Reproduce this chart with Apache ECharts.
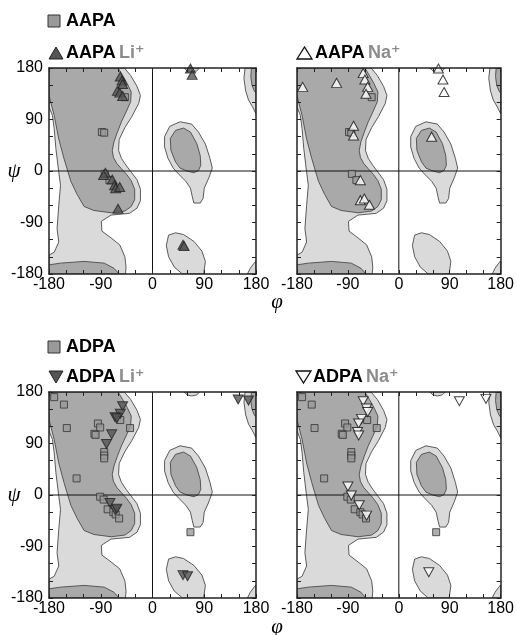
<!DOCTYPE html>
<html><head><meta charset="utf-8">
<script src="https://cdn.jsdelivr.net/npm/echarts/dist/echarts.min.js"></script>
<style>html,body{margin:0;padding:0;background:#fff}#c{width:517px;height:635px}</style>
</head><body><div id="c"></div>
<script>
// ---- axis ticks ----
const tickLabels = [-180, -90, 0, 90, 180];

// ---- background contour regions (phi, psi in degrees) ----
const lightLeft = [[-180,180],[-49,180],[-38,167],[-27,148],[-21,132],[-24,118],[-36,95],[-48,76],[-58,55],[-59,36],[-54,22],[-46,10],[-37,-2],[-27,-15],[-21,-32],[-21,-52],[-27,-65],[-40,-74],[-72,-77],[-89,-88],[-88,-105],[-72,-117],[-57,-129],[-48,-150],[-46,-168],[-47,-180],[-180,-180],[-180,-147],[-171,-142],[-163,-124],[-166,-101],[-163,-60],[-160,-25],[-163,-2],[-168,39],[-171,74],[-174,97],[-180,112]];
const darkLeft = [[-180,180],[-60,180],[-52,167],[-44,153],[-37,138],[-38,121],[-46,103],[-54,86],[-61,68],[-67,51],[-70,36],[-68,24],[-62,13],[-54,4],[-45,-6],[-37,-17],[-31,-32],[-31,-50],[-37,-62],[-48,-70],[-72,-73],[-102,-69],[-119,-62],[-131,-41],[-142,-18],[-154,22],[-163,56],[-171,97],[-180,132]];
const darkBottom = [[-180,-180],[-180,-164],[-160,-161],[-119,-158],[-84,-161],[-67,-170],[-58,-180]];
const lightTopRight = [[180,180],[161,180],[159,162],[162,140],[167,124],[174,112],[180,100]];
const darkTopRight = [[180,180],[172,180],[171,165],[173,150],[177,140],[180,136]];
const lightBottomRight = [[180,-180],[165,-180],[170,-170],[176,-162],[180,-157]];
const lowerBlob = [[52,-180],[38,-168],[28,-150],[24,-130],[28,-112],[40,-108],[54,-111],[72,-123],[86,-140],[92,-158],[89,-180]];
const topCap = [[55,180],[60,175],[68,173],[77,175],[82,180]];
const alphaLLight = [[21,60],[30,78],[48,86],[68,82],[80,68],[92,47],[100,22],[104,5],[98,-12],[90,-30],[88,-48],[83,-56],[72,-56],[69,-44],[66,-30],[58,-18],[45,-5],[36,5],[27,22],[21,42]];
const alphaLDark = [[31,57],[40,71],[54,75],[66,68],[77,48],[83,27],[84,10],[80,1],[72,-3],[60,0],[48,5],[40,16],[32,36]];
const zeroLines = [[0,-180,0,180],[-180,0,180,0]];

// ---- measured points (phi, psi) ----
const aapaSq = [[-48,129],[-88,68],[-84,67],[-83,-5],[-75,-16]];
const aapaLi = [[-56,165],[-53,158],[-52,152],[-61,140],[-57,137],[-52,131],[-82,-3],[-85,-7],[-70,-15],[-66,-25],[-64,-30],[-57,-28],[-60,-66],[66,179],[69,168],[53,-129],[55,-131]];
const aapaNa = [[-170,147],[-110,154],[-63,171],[-60,160],[-55,147],[-58,135],[-80,79],[-80,62],[-68,-16],[-68,-51],[-61,-48],[-52,-59],[70,179],[78,160],[80,138],[58,60]];
const adpaSq = [[-171,171],[-154,158],[-149,117],[-95,125],[-91,118],[-101,107],[-99,105],[-84,75],[-84,69],[-84,64],[-132,29],[-91,-3],[-85,-8],[-78,-25],[-68,-30],[-64,-34],[-58,-41],[-56,131],[-39,117],[66,-65]];
const adpaLi = [[-52,155],[-56,142],[-65,136],[-62,134],[-71,106],[-80,89],[-74,-14],[-65,-26],[-62,-24],[149,167],[167,165],[53,-140],[61,-142]];
const adpaNa = [[-63,164],[-57,151],[-55,145],[-66,133],[-71,125],[-73,110],[-71,104],[-90,15],[-84,-1],[-70,-18],[-57,-36],[107,164],[154,168],[53,-135]];

const FONT = '"Liberation Sans", Arial, "DejaVu Sans", sans-serif';
const LIGHT = '#dadada', DARK = '#a9a9a9', EDGE = '#4a4a4a';

const grids = [
  {left:49, top:68, width:207, height:206},
  {left:297, top:68, width:207, height:206},
  {left:49, top:392, width:207, height:206},
  {left:297, top:392, width:207, height:206}
];

const xAxes = [], yAxes = [], series = [];
const axisLineStyle = {color:'#222', width:1.5};
grids.forEach((g, gi) => {
  const showY = (gi === 0 || gi === 2);
  const base = {type:'value', gridIndex:gi, min:-180, max:180, interval:30, z:10,
    splitLine:{show:false},
    axisLine:{show:true, onZero:false, lineStyle:axisLineStyle},
    axisTick:{show:true, inside:true, length:4, lineStyle:{color:'#222', width:1}}};
  xAxes.push(Object.assign({}, base, {position:'bottom',
    axisLabel:{show:true, margin:3, fontSize:16, color:'#000', fontFamily:FONT,
      formatter: v => tickLabels.includes(v) ? String(v) : ''}}));
  xAxes.push(Object.assign({}, base, {position:'top', axisLabel:{show:false}}));
  yAxes.push(Object.assign({}, base, {position:'left',
    axisLabel:{show:showY, margin:6, fontSize:16, color:'#000', fontFamily:FONT,
      formatter: v => tickLabels.includes(v) ? String(v) : ''}}));
  yAxes.push(Object.assign({}, base, {position:'right', axisLabel:{show:false}}));

  const xi = gi*2, yi = gi*2;
  const poly = (pts, fill, z) => ({
    type:'custom', xAxisIndex:xi, yAxisIndex:yi, z:z, silent:true, clip:true,
    data:[[0,0]],
    renderItem: (params, api) => ({
      type:'polygon',
      shape:{points: pts.map(p => api.coord(p))},
      style:{fill:fill, stroke:EDGE, lineWidth:0.9}
    })
  });
  series.push(poly(lightLeft, LIGHT, 1));
  series.push(poly(lightTopRight, LIGHT, 1));
  series.push(poly(lightBottomRight, LIGHT, 1));
  series.push(poly(lowerBlob, LIGHT, 1));
  series.push(poly(topCap, LIGHT, 1));
  series.push(poly(alphaLLight, LIGHT, 1));
  series.push(poly(darkLeft, DARK, 2));
  series.push(poly(darkBottom, DARK, 2));
  series.push(poly(darkTopRight, DARK, 2));
  series.push(poly(alphaLDark, DARK, 2));
  series.push({
    type:'custom', xAxisIndex:xi, yAxisIndex:yi, z:3, silent:true, clip:true,
    data: zeroLines,
    renderItem: (params, api) => {
      const a = api.coord([api.value(0), api.value(1)]);
      const b = api.coord([api.value(2), api.value(3)]);
      return {type:'line', shape:{x1:a[0], y1:a[1], x2:b[0], y2:b[1]}, style:{stroke:'#111', lineWidth:1}};
    }
  });
  const sq = gi < 2 ? aapaSq : adpaSq;
  series.push({type:'scatter', xAxisIndex:xi, yAxisIndex:yi, z:4, data:sq, symbol:'rect', symbolSize:7,
    itemStyle:{color:'#9a9a9a', borderColor:'#333', borderWidth:1}, silent:true});
  const tri = [aapaLi, aapaNa, adpaLi, adpaNa][gi];
  const li = (gi === 0 || gi === 2);
  series.push({type:'scatter', xAxisIndex:xi, yAxisIndex:yi, z:5, data:tri, symbol:'triangle',
    symbolSize:[10,9], symbolRotate: gi >= 2 ? 180 : 0,
    itemStyle: li ? {color:'#555', borderColor:'#222', borderWidth:1} : {color:'#fff', borderColor:'#111', borderWidth:1},
    silent:true});
});

const richT = {a:{fontSize:18, fontWeight:'bold', fill:'#000', fontFamily:FONT}, b:{fontSize:18, fontWeight:'bold', fill:'#8c8c8c', fontFamily:FONT}};
function label(x, y, main, ion) {
  return {type:'text', x:x, y:y, style:{text: ion ? '{a|' + main + '} {b|' + ion + '}' : '{a|' + main + '}', rich:richT, verticalAlign:'middle', align:'left'}};
}
const graphic = [
  {type:'rect', shape:{x:48, y:15, width:12, height:12}, style:{fill:'#9a9a9a', stroke:'#333', lineWidth:1}},
  label(66, 21, 'AAPA'),
  {type:'polygon', shape:{points:[[49,59],[63,59],[56,47]]}, style:{fill:'#555', stroke:'#222', lineWidth:1}},
  label(66, 53, 'AAPA', 'Li⁺'),
  {type:'polygon', shape:{points:[[297,59],[312,59],[304.5,47]]}, style:{fill:'#fff', stroke:'#111', lineWidth:1.3}},
  label(315, 53, 'AAPA', 'Na⁺'),
  {type:'rect', shape:{x:48, y:341, width:12, height:12}, style:{fill:'#9a9a9a', stroke:'#333', lineWidth:1}},
  label(66, 347, 'ADPA'),
  {type:'polygon', shape:{points:[[49,371],[63,371],[56,383]]}, style:{fill:'#555', stroke:'#222', lineWidth:1}},
  label(66, 377, 'ADPA', 'Li⁺'),
  {type:'polygon', shape:{points:[[296,371],[311,371],[303.5,383]]}, style:{fill:'#fff', stroke:'#111', lineWidth:1.3}},
  label(313, 377, 'ADPA', 'Na⁺'),
  {type:'text', x:14, y:171, style:{text:'ψ', font:'italic 21px "Liberation Serif", "DejaVu Serif", serif', fill:'#000', align:'center', verticalAlign:'middle'}},
  {type:'text', x:14, y:495, style:{text:'ψ', font:'italic 21px "Liberation Serif", "DejaVu Serif", serif', fill:'#000', align:'center', verticalAlign:'middle'}},
  {type:'text', x:277, y:302, style:{text:'φ', font:'italic 21px "Liberation Serif", "DejaVu Serif", serif', fill:'#000', align:'center', verticalAlign:'middle'}},
  {type:'text', x:277, y:627, style:{text:'φ', font:'italic 21px "Liberation Serif", "DejaVu Serif", serif', fill:'#000', align:'center', verticalAlign:'middle'}}
];

const chart = echarts.init(document.getElementById('c'), null, {renderer:'canvas'});
chart.setOption({
  animation:false,
  backgroundColor:'#fff',
  grid: grids,
  xAxis: xAxes,
  yAxis: yAxes,
  series: series,
  graphic: graphic
});
</script></body></html>
